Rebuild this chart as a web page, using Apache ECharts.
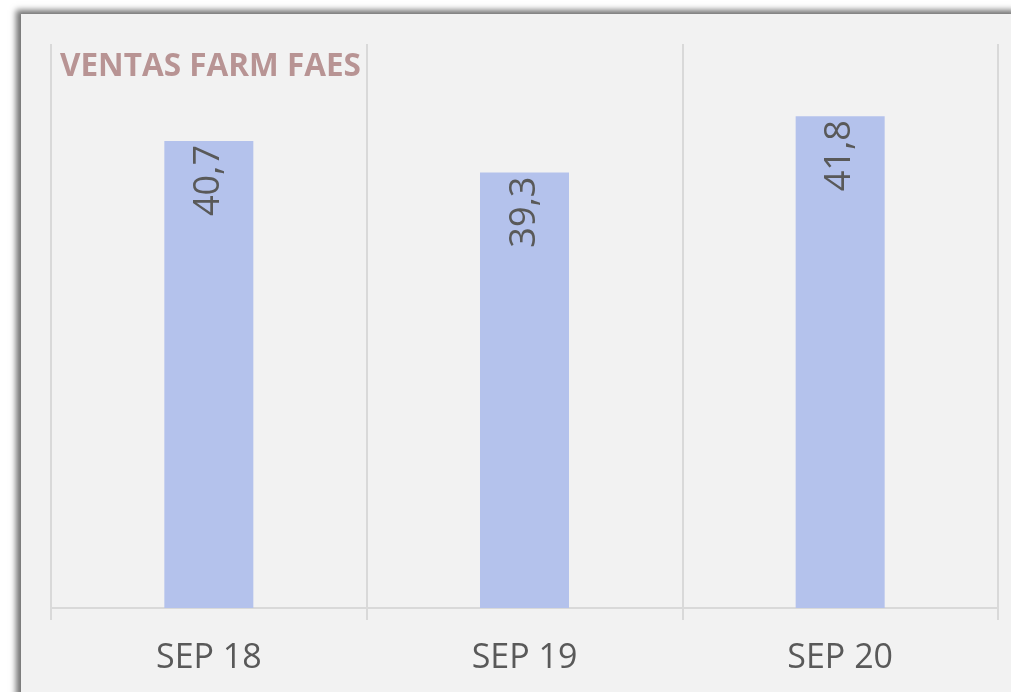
<!DOCTYPE html>
<html>
<head>
<meta charset="utf-8">
<script src="https://cdn.jsdelivr.net/npm/echarts@6/dist/echarts.min.js"></script>
<style>
  html, body { margin: 0; padding: 0; background: #ffffff; width: 1011px; height: 692px; overflow: hidden; }
  #panel { position: absolute; left: 21px; top: 14px; width: 1000px; height: 690px; background: #f2f2f2;
           box-shadow: -5px -4px 6px rgba(0,0,0,0.55); }
  #chart { position: absolute; left: 0; top: 0; width: 990px; height: 678px; }
</style>
</head>
<body>
<div id="panel"><div id="chart"></div></div>
<script>
const title = 'VENTAS FARM FAES';
const categories = ['SEP 18', 'SEP 19', 'SEP 20'];
const values = [40.7, 39.3, 41.8];
const yMin = 20;
const yMax = 45;

const chart = echarts.init(document.getElementById('chart'), null, { renderer: 'canvas' });
chart.setOption({
  animation: false,
  backgroundColor: 'transparent',
  title: {
    text: title,
    left: 34,
    top: 32,
    textStyle: { fontFamily: 'Open Sans', fontWeight: 'bold', fontSize: 31.5, color: '#b89494' }
  },
  grid: { left: 30, right: 13, top: 30, bottom: 84, containLabel: false },
  xAxis: {
    type: 'category',
    data: categories,
    boundaryGap: true,
    axisLine: { show: true, lineStyle: { color: '#d9d9d9', width: 2 } },
    axisTick: { show: true, length: 12, lineStyle: { color: '#d9d9d9', width: 2 } },
    splitLine: { show: true, lineStyle: { color: '#d9d9d9', width: 2 } },
    axisLabel: { margin: 33, fontFamily: 'Open Sans', fontSize: 34, color: '#595959' }
  },
  yAxis: {
    type: 'value',
    min: yMin,
    max: yMax,
    show: false,
    splitLine: { show: false }
  },
  series: [{
    type: 'bar',
    data: values,
    barWidth: 89,
    itemStyle: { color: '#b4c2ec' },
    label: {
      show: true,
      position: 'insideTop',
      rotate: 90,
      align: 'right',
      verticalAlign: 'middle',
      distance: 4,
      fontFamily: 'Open Sans',
      fontSize: 36,
      color: '#595959',
      formatter: p => String(p.value).replace('.', ',')
    }
  }]
});
</script>
</body>
</html>
